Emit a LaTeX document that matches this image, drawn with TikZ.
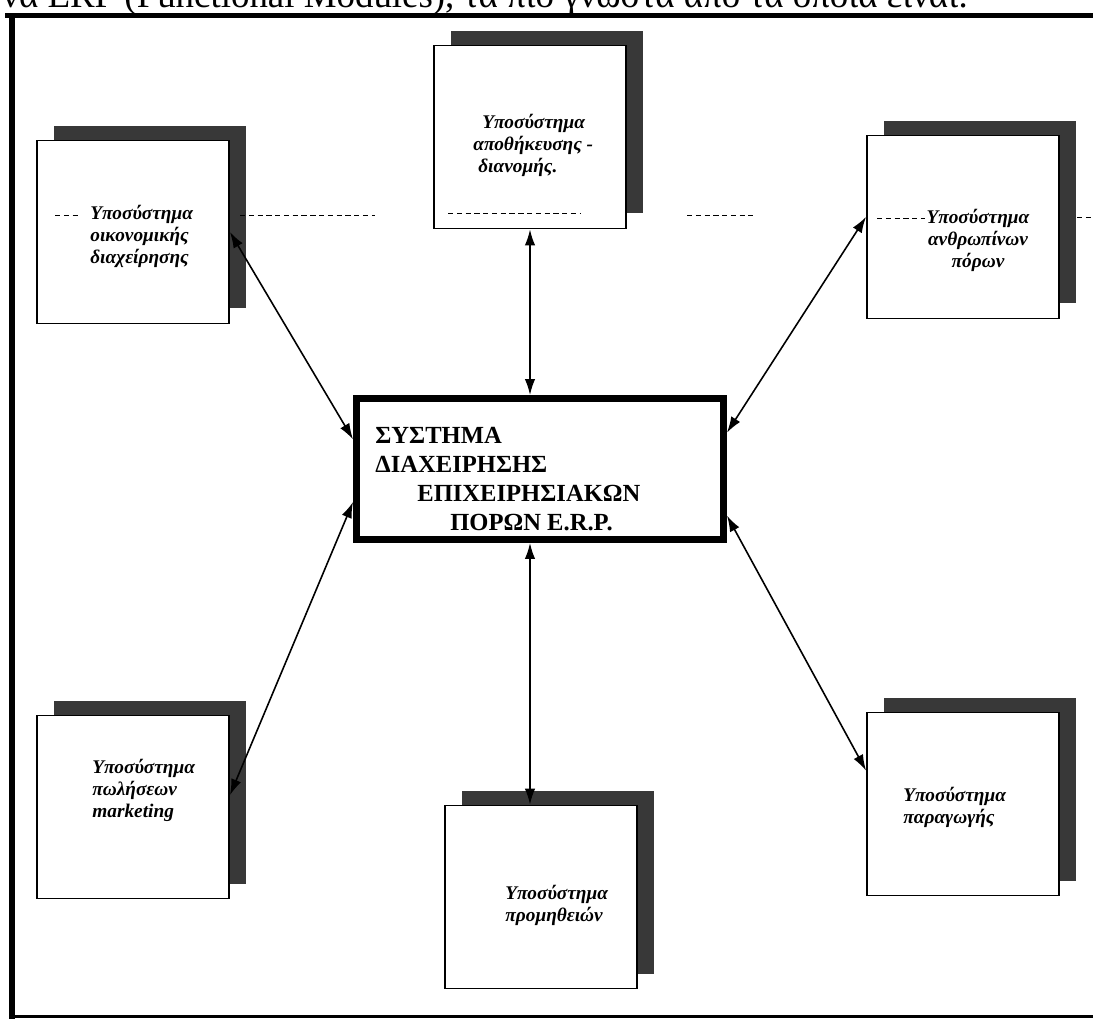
\documentclass[tikz,border=0pt]{standalone}
\usepackage{fontspec}
\setmainfont{Liberation Serif}
\usetikzlibrary{arrows.meta,shadows}
\begin{document}
\begin{tikzpicture}[x=0.02cm, y=-0.02cm,
  >={Latex[length=0.32cm, width=0.21cm]},
  subsys/.style={draw, fill=white, line width=1.1pt, inner sep=0pt,
    minimum width=3.84cm, minimum height=3.66cm,
    drop shadow={shadow xshift=0.34cm, shadow yshift=0.3cm, fill=black!78, opacity=1}},
  subtext/.style={anchor=west, align=left, inner sep=0pt,
    font=\fontsize{11}{12.5}\selectfont\bfseries\itshape},
  link/.style={<->, line width=0.9pt},
  ghost/.style={densely dashed, line width=0.5pt}]
  \useasboundingbox (0,0) rectangle (1093,1019);
  % page text cut by the top edge
  \node[anchor=base west, inner sep=0pt, font=\fontsize{21}{21}\selectfont] (pagetext) at (2,7)
    {να ERP (Functional Modules), τα πιο γνωστά από τα οποία είναι:};
  % frame
  \draw[line width=0.1cm] (5,15) -- (1093,15);
  \draw[line width=0.12cm] (12,15) -- (12,1019);
  \draw[line width=0.06cm] (12,1016) -- (1093,1016);
  % subsystems
  \node[subsys] (fin) at (133,232) {};
  \node[subsys] (whs) at (530,137) {};
  \node[subsys] (hr) at (963,227) {};
  \node[subsys] (sales) at (133,807) {};
  \node[subsys] (prod) at (963,804) {};
  \node[subsys] (supp) at (541,897) {};
  \node[subtext] (fin-t) at (90,236) {Υποσύστημα\\οικονομικής\\διαχείρησης};
  \node[subtext] (whs-t) at (473,145) {\hspace*{0.18cm}Υποσύστημα\\αποθήκευσης -\\\hspace*{0.1cm}διανομής.};
  \node[subtext, anchor=center, align=center] (hr-t) at (978,240) {Υποσύστημα\\ανθρωπίνων\\πόρων};
  \node[subtext] (sales-t) at (92,790) {Υποσύστημα\\πωλήσεων\\marketing};
  \node[subtext] (prod-t) at (903,807) {Υποσύστημα\\παραγωγής};
  \node[subtext] (supp-t) at (505,905) {Υποσύστημα\\προμηθειών};
  % main system
  \node[draw, line width=0.14cm, minimum width=7.34cm, minimum height=2.82cm] (erp) at (540,469) {};
  \node[anchor=west, align=left, inner sep=0pt, font=\fontsize{14}{16.5}\selectfont\bfseries] (erp-t) at (375,479)
    {ΣΥΣΤΗΜΑ\\ΔΙΑΧΕΙΡΗΣΗΣ\\\hspace*{0.84cm}ΕΠΙΧΕΙΡΗΣΙΑΚΩΝ\\\hspace*{1.5cm}ΠΟΡΩΝ E.R.P.};
  % links
  \draw[link] (whs.south) -- (erp.north -| whs.south);
  \draw[link] (erp.south -| whs.south) -- (supp.north -| whs.south);
  \draw[link] (fin.east) -- (erp.171);
  \draw[link] (sales.7) -- (erp.190);
  \draw[link] (hr.174) -- (erp.11);
  \draw[link] (prod.161) -- (erp.346);
  % faint dashed marks from the scan
  \draw[ghost] (55,215) -- (78,215);
  \draw[ghost] (240,215) -- (375,215);
  \draw[ghost] (448,213) -- (580,213);
  \draw[ghost] (687,215) -- (753,215);
  \draw[ghost] (877,218) -- (925,218);
  \draw[ghost] (1077,217) -- (1093,217);
\end{tikzpicture}
\end{document}
